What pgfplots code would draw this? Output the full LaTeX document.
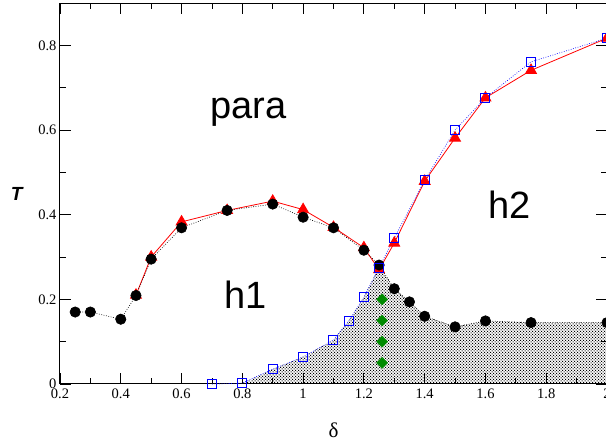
\documentclass[border=0pt]{standalone}
\usepackage{pgfplots}
\pgfplotsset{compat=1.18}
\usepackage{fontspec}
\setmainfont{Liberation Serif}
\setsansfont{Liberation Sans}
\usetikzlibrary{patterns}
\definecolor{xgreen}{RGB}{0,139,0}
\pgfdeclarepatternformonly{stipple}{\pgfqpoint{-1pt}{-1pt}}{\pgfqpoint{3pt}{3pt}}{\pgfqpoint{3pt}{3pt}}%
  {\pgfpathrectangle{\pgfqpoint{-0.5pt}{-0.5pt}}{\pgfqpoint{1pt}{1pt}}%
   \pgfpathrectangle{\pgfqpoint{1pt}{1pt}}{\pgfqpoint{1pt}{1pt}}\pgfusepath{fill}}

\begin{document}
\begin{tikzpicture}
\begin{axis}[
  scale only axis,
  width=547pt, height=381pt,
  xmin=0.2, xmax=2, ymin=0, ymax=0.9,
  xtick={0.2,0.4,...,2.01}, ytick={0,0.2,0.4,0.6,0.8},
  minor tick num=1,
  tick align=inside,
  major tick length=11pt, minor tick length=6pt,
  axis line style={line width=1pt},
  every tick/.style={black, line width=0.8pt},
  /pgf/number format/assume math mode=true,
  tick label style={font=\fontsize{14.5}{16}\selectfont},
  xticklabel style={yshift=-1pt},
  xlabel={δ},
  xlabel style={font=\fontsize{21}{24}\selectfont, at={(axis description cs:0.5,-0.121)}, anchor=center},
  ylabel={T},
  ylabel style={font=\fontsize{19}{22}\selectfont\sffamily\bfseries\itshape, rotate=-90,
    at={(axis description cs:-0.079,0.5)}, anchor=center},
  clip=false,
]
% shaded region
\addplot[draw=none, pattern=stipple, pattern color=black] coordinates {
  (0.8,0) (0.9,0.035) (1.0,0.064) (1.1,0.104) (1.15,0.149) (1.2,0.205) (1.25,0.277)
  (1.3,0.225) (1.35,0.194) (1.4,0.160) (1.5,0.135) (1.6,0.149) (1.75,0.145) (2.0,0.145) (2.0,0)
} \closedcycle;

% red triangles
\addplot[red, line width=0.8pt, mark=triangle*, mark size=6.3pt, mark options={solid, fill=red}] coordinates {
  (0.45,0.21) (0.5,0.30) (0.6,0.383) (0.75,0.41) (0.9,0.432) (1.0,0.412) (1.1,0.37)
  (1.2,0.322) (1.25,0.27) (1.3,0.333) (1.4,0.479) (1.5,0.581) (1.6,0.676) (1.75,0.741) (2.0,0.817)
};

% black circles
\addplot[black, line width=0.6pt, dash pattern=on 0.8pt off 1.6pt, mark=*, mark size=5.2pt, mark options={solid, fill=black}] coordinates {
  (0.25,0.17) (0.3,0.17) (0.4,0.153) (0.45,0.209) (0.5,0.295) (0.6,0.369) (0.75,0.41)
  (0.9,0.425) (1.0,0.394) (1.1,0.369) (1.2,0.316) (1.25,0.281) (1.3,0.225) (1.35,0.194)
  (1.4,0.160) (1.5,0.135) (1.6,0.149) (1.75,0.145) (2.0,0.145)
};

% blue squares
\addplot[blue, line width=0.6pt, dash pattern=on 0.8pt off 1.6pt, mark=square, mark size=4.5pt, mark options={solid, line width=1pt}] coordinates {
  (0.7,0) (0.8,0.002) (0.9,0.035) (1.0,0.064) (1.1,0.104) (1.15,0.149) (1.2,0.205)
  (1.25,0.275) (1.3,0.345) (1.4,0.481) (1.5,0.600) (1.6,0.676) (1.75,0.761) (2.0,0.817)
};

% green diamonds
\addplot[only marks, mark=square*, mark size=3.9pt, mark options={rotate=45, fill=xgreen, draw=xgreen}] coordinates {
  (1.26,0.05) (1.26,0.10) (1.26,0.15) (1.26,0.20)
};

\node[font=\fontsize{38}{40}\selectfont\sffamily, anchor=base] at (axis cs:0.82,0.628) {para};
\node[font=\fontsize{38}{40}\selectfont\sffamily, anchor=base] at (axis cs:0.812,0.179) {h1};
\node[font=\fontsize{38}{40}\selectfont\sffamily, anchor=base] at (axis cs:1.678,0.392) {h2};
\end{axis}
\pgfresetboundingbox
\path (-60pt,-60pt) rectangle (546pt,384pt);
\end{tikzpicture}
\end{document}
